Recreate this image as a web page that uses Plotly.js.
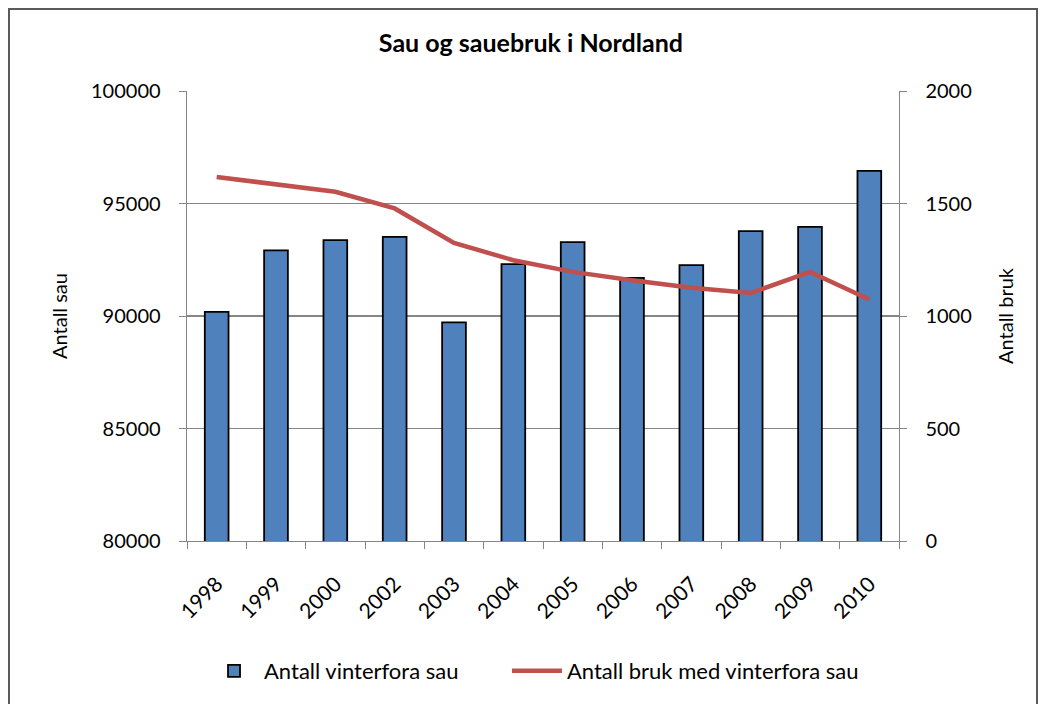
<!DOCTYPE html>
<html>
<head>
<meta charset="utf-8">
<script src="https://cdn.plot.ly/plotly-3.0.1.min.js"></script>
<style>
  html, body { margin: 0; padding: 0; background: #ffffff; }
  #chart { width: 1041px; height: 704px; position: absolute; left: 0; top: 0; }
  #frame { position: absolute; left: 8px; top: 8px; width: 1026px; height: 720px;
           border: 2px solid #5a5a5a; pointer-events: none; }
</style>
</head>
<body>
<div id="chart"></div>
<div id="frame"></div>
<script>
const years = ["1998","1999","2000","2002","2003","2004","2005","2006","2007","2008","2009","2010"];
const sheepCount = [90180, 92920, 93370, 93520, 89720, 92310, 93280, 91690, 92260, 93770, 93960, 96450];
const farmCount = [1618, 1585, 1552, 1478, 1325, 1248, 1196, 1159, 1126, 1102, 1196, 1073];

const FONT = "Lato, 'Open Sans', sans-serif";
const GRID = "#868686";

const traces = [
  {
    type: "bar",
    name: "Antall vinterfora sau",
    x: years,
    y: sheepCount,
    marker: { color: "#4F81BD", line: { color: "#000000", width: 1.8 } },
    yaxis: "y",
    legend: "legend"
  },
  {
    type: "scatter",
    mode: "lines",
    name: "Antall bruk med vinterfora sau",
    x: years,
    y: farmCount,
    line: { color: "#C0504D", width: 4.5 },
    yaxis: "y2",
    legend: "legend2"
  }
];

const legendBase = {
  orientation: "h",
  xanchor: "left",
  y: -0.289, yanchor: "middle",
  font: { family: FONT, size: 22 },
  itemwidth: 50,
  bgcolor: "rgba(0,0,0,0)"
};

const layout = {
  width: 1041,
  height: 704,
  paper_bgcolor: "#ffffff",
  plot_bgcolor: "#ffffff",
  font: { family: FONT, size: 20, color: "#000000" },
  margin: { l: 187, r: 142, t: 91, b: 163 },
  bargap: 0.6,
  showlegend: true,
  title: {
    text: "<b>Sau og sauebruk i Nordland</b>",
    font: { family: FONT, size: 25, color: "#000000" },
    x: 0.51, xref: "container", xanchor: "center",
    y: 0.939, yref: "container", yanchor: "middle"
  },
  xaxis: {
    type: "category",
    tickangle: -45,
    ticks: "outside",
    tickson: "boundaries",
    ticklen: 7,
    tickcolor: GRID,
    ticklabelstandoff: 21,
    showline: true,
    linecolor: GRID,
    linewidth: 1.4,
    showgrid: false,
    tickfont: { family: FONT, size: 21 },
    automargin: false
  },
  yaxis: {
    range: [80000, 100000],
    dtick: 5000,
    tick0: 80000,
    tickformat: "d",
    ticks: "outside",
    ticklen: 7,
    tickcolor: GRID,
    ticklabelstandoff: 14,
    showline: true,
    linecolor: GRID,
    linewidth: 1.4,
    gridcolor: GRID,
    gridwidth: 1.4,
    zeroline: false,
    tickfont: { family: FONT, size: 20 },
    title: { text: "Antall sau", font: { family: FONT, size: 20 }, standoff: 18 },
    automargin: false
  },
  yaxis2: {
    overlaying: "y",
    side: "right",
    range: [0, 2000],
    dtick: 500,
    tick0: 0,
    tickformat: "d",
    ticks: "outside",
    ticklen: 7,
    tickcolor: GRID,
    ticklabelstandoff: 14,
    showline: true,
    linecolor: GRID,
    linewidth: 1.4,
    showgrid: false,
    zeroline: false,
    tickfont: { family: FONT, size: 20 },
    title: { text: "Antall bruk", font: { family: FONT, size: 20 }, standoff: 28 },
    automargin: false
  },
  legend: Object.assign({}, legendBase, { x: 0.0239 }),
  legend2: Object.assign({}, legendBase, { x: 0.4494 })
};

Plotly.newPlot("chart", traces, layout, { displayModeBar: false, staticPlot: true });
</script>
</body>
</html>
